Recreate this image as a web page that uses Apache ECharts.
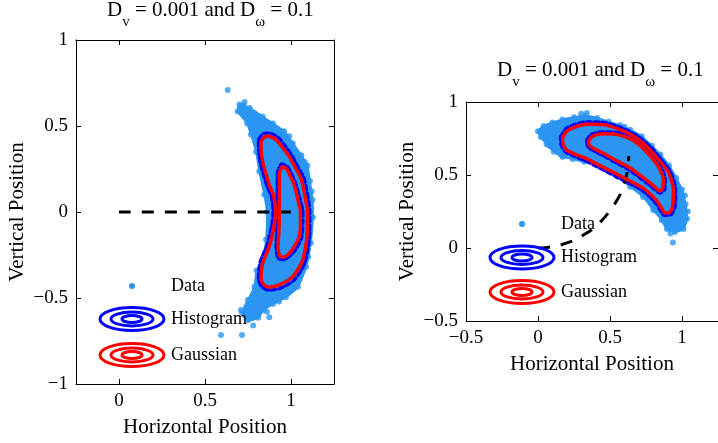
<!DOCTYPE html>
<html><head><meta charset="utf-8">
<script src="https://cdn.jsdelivr.net/npm/echarts@6/dist/echarts.min.js"></script>
<style>html,body{margin:0;padding:0;background:#fff;}#c{width:718px;height:443px;}</style>
</head><body><div id="c"></div>
<script>
// ---------- data ----------
const titleMain = ['D', ' = 0.001 and D', ' = 0.1'];
const titleSubs = ['v', 'ω'];
const xName = 'Horizontal Position';
const yName = 'Vertical Position';
const legendNames = ['Data', 'Histogram', 'Gaussian'];

const leftXTicks = [0, 0.5, 1];
const leftYTicks = [-1, -0.5, 0, 0.5, 1];
const rightXTicks = [-0.5, 0, 0.5, 1];
const rightYTicks = [-0.5, 0, 0.5, 1];

// left panel: outline of the dense data cloud
const leftCloud = [[0.70,0.625],[0.76,0.605],[0.835,0.555],[0.895,0.515],[0.96,0.47],[1.01,0.40],[1.06,0.33],[1.095,0.27],[1.11,0.18],[1.125,0.07],[1.127,-0.03],[1.115,-0.18],[1.088,-0.32],[1.04,-0.435],[0.97,-0.495],[0.895,-0.535],[0.84,-0.57],[0.81,-0.615],[0.75,-0.63],[0.715,-0.585],[0.75,-0.51],[0.787,-0.435],[0.80,-0.34],[0.835,-0.28],[0.855,-0.16],[0.86,0.0],[0.845,0.10],[0.816,0.235],[0.797,0.35],[0.767,0.45],[0.745,0.515],[0.69,0.585]];
const leftOutliers = [[0.632,0.709],[0.593,-0.715],[0.715,-0.715],[0.874,-0.612],[0.709,-0.57],[0.73,0.64],[1.08,0.29],[1.12,0.12],[0.93,-0.52],[0.78,-0.66],[0.725,0.62],[0.99,0.44],[1.10,-0.26],[0.86,-0.58]];
const leftHistOuter = [[0.81,0.42],[0.835,0.455],[0.87,0.46],[0.925,0.435],[0.97,0.38],[1.005,0.33],[1.045,0.255],[1.075,0.20],[1.097,0.10],[1.11,0.0],[1.11,-0.11],[1.083,-0.29],[1.02,-0.395],[0.935,-0.445],[0.87,-0.455],[0.83,-0.435],[0.81,-0.39],[0.82,-0.29],[0.86,-0.19],[0.89,-0.06],[0.895,0.0],[0.885,0.09],[0.86,0.15],[0.82,0.29],[0.81,0.37],[0.81,0.42]];
const leftHistInner = [[0.92,0.23],[0.945,0.28],[0.98,0.265],[1.01,0.21],[1.03,0.16],[1.055,0.07],[1.07,0.0],[1.07,-0.06],[1.062,-0.15],[1.03,-0.215],[0.995,-0.255],[0.96,-0.278],[0.925,-0.27],[0.912,-0.2],[0.917,-0.1],[0.918,0.0],[0.918,0.1],[0.92,0.23]];
const leftGaussOuter = [[0.826,0.41],[0.845,0.435],[0.87,0.44],[0.915,0.418],[0.955,0.37],[0.99,0.322],[1.03,0.25],[1.058,0.196],[1.08,0.10],[1.095,0.0],[1.095,-0.105],[1.068,-0.279],[1.01,-0.376],[0.932,-0.424],[0.87,-0.437],[0.84,-0.42],[0.826,-0.39],[0.835,-0.298],[0.874,-0.2],[0.905,-0.06],[0.91,0.0],[0.90,0.09],[0.874,0.157],[0.835,0.293],[0.826,0.37],[0.826,0.41]];
const leftGaussInner = [[0.932,0.225],[0.951,0.264],[0.975,0.25],[1.0,0.20],[1.019,0.157],[1.04,0.07],[1.055,0.0],[1.055,-0.06],[1.048,-0.143],[1.02,-0.2],[0.99,-0.24],[0.96,-0.262],[0.935,-0.255],[0.925,-0.2],[0.93,-0.1],[0.932,0.0],[0.932,0.1],[0.932,0.225]];
const leftPath = [[0,0],[1,0]];

// right panel
const rightCloud = [[0.0,0.80],[0.04,0.835],[0.10,0.86],[0.17,0.88],[0.25,0.895],[0.33,0.905],[0.41,0.89],[0.49,0.865],[0.57,0.84],[0.64,0.81],[0.72,0.765],[0.79,0.70],[0.85,0.64],[0.91,0.565],[0.96,0.48],[1.0,0.40],[1.025,0.30],[1.035,0.20],[1.01,0.13],[0.95,0.11],[0.895,0.13],[0.86,0.19],[0.80,0.26],[0.73,0.35],[0.64,0.42],[0.55,0.49],[0.47,0.54],[0.40,0.575],[0.32,0.59],[0.24,0.61],[0.17,0.625],[0.11,0.66],[0.06,0.71],[0.02,0.76]];
const rightOutliers = [[0.339,0.925],[0.937,0.038],[0.169,0.628],[0.035,0.82],[1.04,0.25],[0.99,0.16],[0.30,0.92],[0.60,0.83],[0.08,0.70],[0.92,0.10],[1.02,0.36]];
const rightHistOuter = [[0.155,0.76],[0.19,0.815],[0.255,0.848],[0.34,0.865],[0.455,0.862],[0.58,0.825],[0.69,0.77],[0.785,0.69],[0.855,0.61],[0.92,0.525],[0.957,0.40],[0.952,0.28],[0.925,0.228],[0.875,0.222],[0.848,0.258],[0.803,0.322],[0.72,0.396],[0.61,0.453],[0.49,0.515],[0.39,0.565],[0.32,0.60],[0.245,0.63],[0.19,0.657],[0.16,0.705],[0.155,0.76]];
const rightHistInner = [[0.335,0.735],[0.37,0.78],[0.45,0.797],[0.535,0.795],[0.64,0.765],[0.712,0.722],[0.795,0.64],[0.855,0.555],[0.885,0.47],[0.88,0.40],[0.848,0.375],[0.80,0.408],[0.71,0.478],[0.62,0.542],[0.543,0.582],[0.462,0.627],[0.392,0.662],[0.348,0.69],[0.335,0.735]];
const rightGaussOuter = [[0.17,0.755],[0.20,0.80],[0.26,0.83],[0.34,0.848],[0.45,0.845],[0.57,0.81],[0.68,0.755],[0.77,0.68],[0.84,0.60],[0.905,0.52],[0.94,0.40],[0.935,0.29],[0.915,0.245],[0.88,0.24],[0.86,0.27],[0.815,0.335],[0.73,0.41],[0.62,0.468],[0.50,0.53],[0.40,0.58],[0.33,0.615],[0.25,0.645],[0.20,0.67],[0.175,0.71],[0.17,0.755]];
const rightGaussInner = [[0.35,0.73],[0.38,0.765],[0.45,0.782],[0.53,0.78],[0.63,0.752],[0.70,0.71],[0.78,0.63],[0.84,0.55],[0.87,0.47],[0.865,0.41],[0.845,0.39],[0.81,0.42],[0.72,0.49],[0.63,0.555],[0.55,0.595],[0.47,0.64],[0.40,0.675],[0.36,0.70],[0.35,0.73]];
const rightPath = [[0,0],[0.05,0.002],[0.1,0.01],[0.15,0.018],[0.2,0.035],[0.25,0.052],[0.3,0.08],[0.35,0.109],[0.4,0.145],[0.44,0.185],[0.48,0.23],[0.515,0.275],[0.55,0.33],[0.58,0.385],[0.6,0.45],[0.615,0.50],[0.625,0.55],[0.63,0.63]];

// ---------- style ----------
const FONT = '"Liberation Serif", "Times New Roman", serif';
const LIGHT = '#2b95f2', BLUE = '#0000ff', RED = '#ff0000';
const fmt = v => String(v).replace('-', '\u2212');

function makeX(grid, min, max, ticks, pos, labels) {
  return {
    gridIndex: grid, type: 'value', min, max, position: pos,
    axisLine: {show: true, onZero: false, lineStyle: {color: '#000', width: 1}},
    axisTick: {show: true, inside: true, length: 5, customValues: ticks, lineStyle: {color: '#000'}},
    axisLabel: {show: labels, customValues: ticks, formatter: fmt, color: '#000', fontFamily: FONT, fontSize: 19, margin: 8},
    splitLine: {show: false},
    name: labels ? xName : '', nameLocation: 'middle', nameGap: 33,
    nameTextStyle: {color: '#000', fontFamily: FONT, fontSize: 21}
  };
}
function makeY(grid, min, max, ticks, pos, labels) {
  return {
    gridIndex: grid, type: 'value', min, max, position: pos,
    axisLine: {show: true, onZero: false, lineStyle: {color: '#000', width: 1}},
    axisTick: {show: true, inside: true, length: 5, customValues: ticks, lineStyle: {color: '#000'}},
    axisLabel: {show: labels, customValues: ticks, formatter: fmt, color: '#000', fontFamily: FONT, fontSize: 19, margin: 8},
    splitLine: {show: false},
    name: labels ? yName : '', nameLocation: 'middle', nameGap: 48, nameRotate: 90,
    nameTextStyle: {color: '#000', fontFamily: FONT, fontSize: 21}
  };
}

function panelSeries(xi, yi, cloud, outliers, hOut, hIn, gOut, gIn, path) {
  const base = {xAxisIndex: xi, yAxisIndex: yi, silent: true};
  const line = (data, color, w, extra) => Object.assign({}, base, {
    type: 'line', data, symbol: 'none', smooth: 0.25,
    lineStyle: Object.assign({color, width: w, join: 'round', cap: 'round'}, extra || {})
  });
  return [
    Object.assign({}, base, {
      type: 'custom', data: [cloud[0]],
      renderItem: (params, api) => ({
        type: 'polygon',
        shape: {points: cloud.map(p => api.coord(p)), smooth: 0.2},
        style: {fill: LIGHT, stroke: LIGHT, lineWidth: 2}
      })
    }),
    Object.assign({}, base, {
      type: 'scatter', data: cloud.concat(outliers), symbolSize: 6,
      itemStyle: {color: LIGHT}
    }),
    line(hOut, BLUE, 3, {type: [5, 3]}),
    line(hIn, BLUE, 3, {type: [5, 3]}),
    Object.assign({}, base, {
      type: 'line', data: path, symbol: 'none', smooth: 0.3,
      lineStyle: {color: '#000', width: 3, type: [12, 11]}
    }),
    line(gOut, RED, 3.5),
    line(gIn, RED, 3.5)
  ];
}

function titleObj(left, top) {
  return {
    left, top, padding: 0,
    text: '{a|' + titleMain[0] + '}{b|' + titleSubs[0] + '}{a|' + titleMain[1] + '}{b|' + titleSubs[1] + '}{a|' + titleMain[2] + '}',
    textStyle: {
      fontWeight: 'normal',
      rich: {
        a: {fontFamily: FONT, fontSize: 21, fontWeight: 'normal', color: '#000', lineHeight: 24, verticalAlign: 'top'},
        b: {fontFamily: FONT, fontSize: 15, fontWeight: 'normal', color: '#000', lineHeight: 30, verticalAlign: 'bottom'}
      }
    }
  };
}

function legendIcons(cx, dataY, histY, gaussY, textX) {
  const els = [];
  els.push({type: 'circle', shape: {cx: cx, cy: dataY, r: 3}, style: {fill: LIGHT}, z: 100});
  const rings = (cy, color) => [[32, 11.5], [21, 7], [10, 3.5]].forEach(r => {
    els.push({type: 'ellipse', shape: {cx: cx, cy: cy, rx: r[0], ry: r[1]}, style: {fill: 'none', stroke: color, lineWidth: 3}, z: 100});
  });
  rings(histY, BLUE);
  rings(gaussY, RED);
  [[legendNames[0], dataY], [legendNames[1], histY], [legendNames[2], gaussY]].forEach(t => {
    els.push({type: 'text', x: textX, y: t[1], z: 100,
      style: {text: t[0], font: '18px ' + FONT, fill: '#000', align: 'left', verticalAlign: 'middle'}});
  });
  return els;
}

const chart = echarts.init(document.getElementById('c'), null, {renderer: 'canvas'});
chart.setOption({
  animation: false,
  backgroundColor: '#fff',
  title: [titleObj(107, 0), titleObj(497, 60)],
  grid: [
    {left: 76, top: 40, width: 258, height: 344},
    {left: 466, top: 102, width: 256.4, height: 219}
  ],
  xAxis: [
    makeX(0, -0.25, 1.25, leftXTicks, 'bottom', true),
    makeX(0, -0.25, 1.25, leftXTicks, 'top', false),
    makeX(1, -0.5, 1.25, rightXTicks, 'bottom', true),
    makeX(1, -0.5, 1.25, rightXTicks, 'top', false)
  ],
  yAxis: [
    makeY(0, -1, 1, leftYTicks, 'left', true),
    makeY(0, -1, 1, leftYTicks, 'right', false),
    makeY(1, -0.5, 1, rightYTicks, 'left', true),
    makeY(1, -0.5, 1, rightYTicks, 'right', false)
  ],
  series: panelSeries(0, 0, leftCloud, leftOutliers, leftHistOuter, leftHistInner, leftGaussOuter, leftGaussInner, leftPath)
    .concat(panelSeries(2, 2, rightCloud, rightOutliers, rightHistOuter, rightHistInner, rightGaussOuter, rightGaussInner, rightPath)),
  graphic: legendIcons(132, 286, 319, 355, 171).concat(legendIcons(522, 224, 257.5, 292, 561))
});
</script></body></html>
